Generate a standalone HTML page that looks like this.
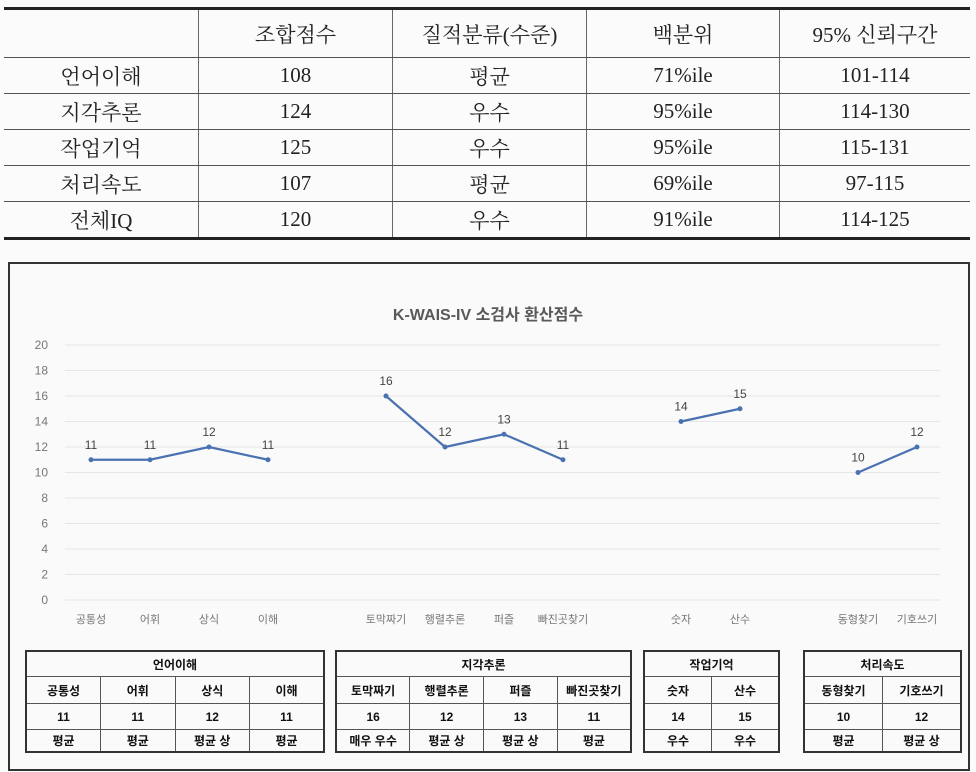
<!DOCTYPE html>
<html><head><meta charset="utf-8">
<style>
body{margin:0;width:976px;height:772px;background:#fbfbfb;position:relative;overflow:hidden;font-family:"Liberation Sans","Noto Sans CJK KR",sans-serif;}
#top{position:absolute;left:4px;top:7px;width:966px;border-collapse:collapse;font-family:"Liberation Serif","Noto Serif CJK SC","Noto Sans CJK KR",serif;font-size:21px;color:#222;}
#top td{text-align:center;height:35px;border-bottom:1px solid #555;border-left:1px solid #666;padding:0;}
#top tr:first-child td{height:47px;border-top:3px solid #222;}
#top tr:last-child td{border-bottom:3px solid #222;}
#top td:first-child{border-left:none;width:194px;}
#top td:nth-child(2){width:193px}#top td:nth-child(3){width:193px}#top td:nth-child(4){width:192px}
#box{position:absolute;left:8px;top:262px;width:958px;height:505px;border:2px solid #333;background:#fafafa;}
.gt{position:absolute;top:650px;border-collapse:collapse;table-layout:fixed;border:2px solid #333;font-size:12px;color:#111;font-weight:bold;}
.gt td{border:1px solid #555;text-align:center;padding:0;white-space:nowrap;overflow:hidden;}
.gt tr:nth-child(1) td{height:24px}.gt tr:nth-child(2) td{height:26px}.gt tr:nth-child(3) td{height:25px}.gt tr:nth-child(4) td{height:21px}
</style></head><body>
<table id="top">
<tr><td></td><td>조합점수</td><td>질적분류(수준)</td><td>백분위</td><td>95% 신뢰구간</td></tr>
<tr><td>언어이해</td><td>108</td><td>평균</td><td>71%ile</td><td>101-114</td></tr>
<tr><td>지각추론</td><td>124</td><td>우수</td><td>95%ile</td><td>114-130</td></tr>
<tr><td>작업기억</td><td>125</td><td>우수</td><td>95%ile</td><td>115-131</td></tr>
<tr><td>처리속도</td><td>107</td><td>평균</td><td>69%ile</td><td>97-115</td></tr>
<tr><td>전체IQ</td><td>120</td><td>우수</td><td>91%ile</td><td>114-125</td></tr>
</table>
<div id="box"></div>
<svg id="chart" width="976" height="772" style="position:absolute;left:0;top:0">
<text x="488" y="320" text-anchor="middle" font-size="16" font-weight="bold" fill="#595959" font-family="Liberation Sans, Noto Sans CJK KR, sans-serif">K-WAIS-IV 소검사 환산점수</text>
</svg>
<table class="gt" style="left:25px;width:300px">
<tr><td colspan="4">언어이해</td></tr><tr><td>공통성</td><td>어휘</td><td>상식</td><td>이해</td></tr>
<tr><td>11</td><td>11</td><td>12</td><td>11</td></tr><tr><td>평균</td><td>평균</td><td>평균 상</td><td>평균</td></tr></table>
<table class="gt" style="left:335px;width:297px">
<tr><td colspan="4">지각추론</td></tr><tr><td>토막짜기</td><td>행렬추론</td><td>퍼즐</td><td>빠진곳찾기</td></tr>
<tr><td>16</td><td>12</td><td>13</td><td>11</td></tr><tr><td>매우 우수</td><td>평균 상</td><td>평균 상</td><td>평균</td></tr></table>
<table class="gt" style="left:643px;width:137px">
<tr><td colspan="2">작업기억</td></tr><tr><td>숫자</td><td>산수</td></tr>
<tr><td>14</td><td>15</td></tr><tr><td>우수</td><td>우수</td></tr></table>
<table class="gt" style="left:803px;width:159px">
<tr><td colspan="2">처리속도</td></tr><tr><td>동형찾기</td><td>기호쓰기</td></tr>
<tr><td>10</td><td>12</td></tr><tr><td>평균</td><td>평균 상</td></tr></table>
<script>
const categories=["공통성","어휘","상식","이해","토막짜기","행렬추론","퍼즐","빠진곳찾기","숫자","산수","동형찾기","기호쓰기"];
const slots=[0,1,2,3,5,6,7,8,10,11,13,14];
const groups=[[0,1,2,3],[4,5,6,7],[8,9],[10,11]];
const values=[11,11,12,11,16,12,13,11,14,15,10,12];
const yTicks=[0,2,4,6,8,10,12,14,16,18,20];
const NS="http://www.w3.org/2000/svg";
const svg=document.getElementById('chart');
const x=s=>91+s*59;
const y=v=>600-v*12.75;
function mk(t,a){const e=document.createElementNS(NS,t);for(const k in a)e.setAttribute(k,a[k]);svg.appendChild(e);return e;}
yTicks.forEach(t=>{
 const g=mk('line',{x1:65,x2:940,y1:y(t),y2:y(t),stroke:'#e6e6e6','stroke-width':1});
 
 
 const l=mk('text',{x:48,y:y(t)+4,'text-anchor':'end','font-size':12,fill:'#777'});l.textContent=t;
 
 
});
categories.forEach((c,i)=>{
 const l=mk('text',{x:x(slots[i]),y:623,'text-anchor':'middle','font-size':11,fill:'#777'});l.textContent=c;
 
 
});
groups.forEach(g=>{
 const pts=g.map(i=>x(slots[i])+','+y(values[i])).join(' ');
 const p=mk('polyline',{points:pts,fill:'none',stroke:'#4a72b0','stroke-width':2.2});
 
 
});
values.forEach((v,i)=>{
 const c=mk('circle',{cx:x(slots[i]),cy:y(v),r:2.5,fill:'#4a72b0'});
 
 
 const t=mk('text',{x:x(slots[i]),y:y(v)-11,'text-anchor':'middle','font-size':12,fill:'#444'});t.textContent=v;
 
 
});
</script>
</body></html>
